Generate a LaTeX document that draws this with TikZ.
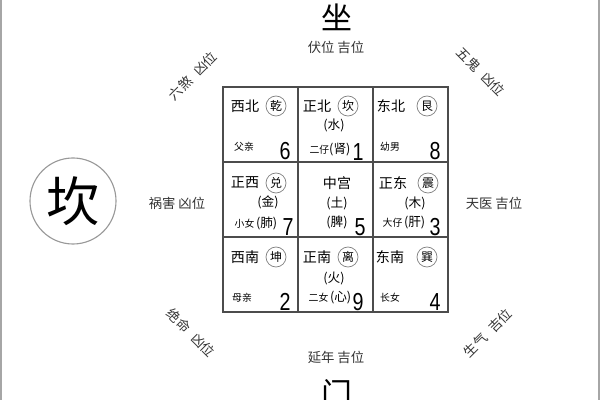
\documentclass[tikz,border=0pt]{standalone}
\usepackage{fontspec}
\setmainfont{Noto Sans CJK SC}
\newfontfamily\numfont[FakeStretch=0.8]{Liberation Sans}
\usetikzlibrary{positioning}
\newcommand{\zang}[1]{{\fontsize{9}{10}\selectfont(#1)}}
\tikzstyle{cell}=[draw=black!70, line width=1.1pt, minimum size=1.875cm, inner sep=0pt]
\tikzstyle{gua}=[circle, draw=black!50, line width=0.5pt, minimum size=0.5cm, inner sep=0pt, font=\fontsize{8.5}{9}\selectfont]
\tikzstyle{fang}=[inner sep=0pt, font=\fontsize{10}{12}\selectfont]
\tikzstyle{wx}=[inner sep=0pt, font=\fontsize{9}{10}\selectfont]
\tikzstyle{ren}=[inner sep=0pt, font=\fontsize{7}{8}\selectfont]
\tikzstyle{num}=[inner sep=0pt, font=\numfont\fontsize{17.5}{18}\selectfont]
\tikzstyle{wei}=[inner sep=0pt, text=black!80, font=\fontsize{9.5}{10}\selectfont]
\tikzstyle{zi}=[inner sep=0pt, font=\fontsize{22}{24}\selectfont]

\begin{document}
\begin{tikzpicture}[x=0.025cm,y=-0.025cm,node distance=1.875cm]
\useasboundingbox (0,0) rectangle (600,400);
\draw[black!35, line width=1.4pt] (1,0) -- (1,400);
\draw[black!35, line width=1.4pt] (599,0) -- (599,400);

% nine palaces
\node[cell] at (260.5,124.5) (nw) {};
\node[cell, right of = nw] (n) {};
\node[cell, right of = n] (ne) {};
\node[cell, below of = nw] (w) {};
\node[cell, right of = w] (c) {};
\node[cell, right of = c] (e) {};
\node[cell, below of = w] (sw) {};
\node[cell, right of = sw] (s) {};
\node[cell, right of = s] (se) {};

% top row
\node[fang] at (245,106) (nwname) {西北};
\node[gua] at (276,106) (qian) {乾};
\node[ren] at (244,147) (fuqin) {父亲};
\node[num] at (285,151) (six) {6};

\node[fang] at (317,106) (nname) {正北};
\node[gua] at (348,106) (kangua) {坎};
\node[wx] at (334,125) (shui) {(水)};
\node[ren] at (330,150) (erzai) {二仔\zang{肾}};
\node[num] at (358,152) (one) {1};

\node[fang] at (391,106) (nename) {东北};
\node[gua] at (427,106) (gen) {艮};
\node[ren] at (390,147) (younan) {幼男};
\node[num] at (435,151) (eight) {8};

% middle row
\node[fang] at (245,183) (wname) {正西};
\node[gua] at (276,183) (dui) {兑};
\node[wx] at (268,202) (jin) {(金)};
\node[ren] at (256,223) (xiaonv) {小女\,\zang{肺}};
\node[num] at (288,227) (seven) {7};

\node[fang] at (337,183) (cname) {中宫};
\node[wx] at (337,203) (tu) {(土)};
\node[wx] at (337,222) (pi) {(脾)};
\node[num] at (360,227) (five) {5};

\node[fang] at (393,183) (ename) {正东};
\node[gua] at (428,183) (zhen) {震};
\node[wx] at (415,203) (mu) {(木)};
\node[ren] at (404,223) (dazai) {大仔\,\zang{肝}};
\node[num] at (435,227) (three) {3};

% bottom row
\node[fang] at (245,257) (swname) {西南};
\node[gua] at (276,257) (kun) {坤};
\node[ren] at (242,298) (muqin) {母亲};
\node[num] at (285,302) (two) {2};

\node[fang] at (317,257) (sname) {正南};
\node[gua] at (348,257) (li) {离};
\node[wx] at (334,278) (huo) {(火)};
\node[ren] at (330,298) (ernv) {二女\,\zang{心}};
\node[num] at (358,302) (nine) {9};

\node[fang] at (390,257) (sename) {东南};
\node[gua] at (427,257) (xun) {巽};
\node[ren] at (390,298) (zhangnv) {长女};
\node[num] at (435,302) (four) {4};

% eight positions
\node[wei] at (336,47) (fuwei) {伏位\ 吉位};
\node[wei] at (336,357) (yannian) {延年\ 吉位};
\node[wei] at (177,203) (huohai) {祸害\ 凶位};
\node[wei] at (494,203) (tianyi) {天医\ 吉位};
\node[wei, rotate=45] at (193,76) (liusha) {六煞\hspace{0.6em}凶位};
\node[wei, rotate=-45] at (481,72) (wugui) {五鬼\hspace{0.6em}凶位};
\node[wei, rotate=-45] at (191,333) (jueming) {绝命\hspace{0.6em}凶位};
\node[wei, rotate=45] at (488,333) (shengqi) {生气\hspace{0.6em}吉位};

\node[zi] at (337,17) (zuo) {坐};
\node[zi] at (337,394) (men) {门};
\node[circle, draw=black!40, line width=0.8pt, minimum size=2.15cm, inner sep=0pt, font=\fontsize{38}{40}\selectfont] at (73,201) (kan) {坎};
\end{tikzpicture}
\end{document}
